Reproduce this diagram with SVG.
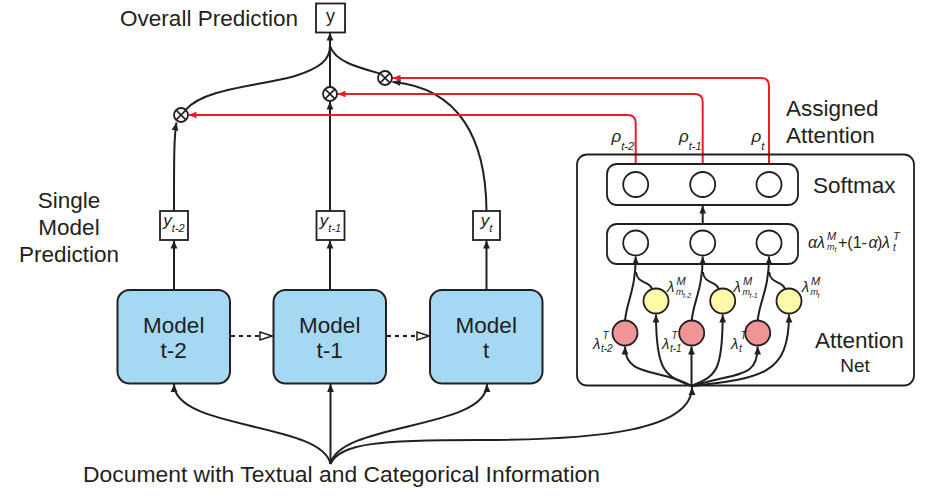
<svg xmlns="http://www.w3.org/2000/svg" width="931" height="498" viewBox="0 0 931 498">
<style>
text{font-family:"Liberation Sans",Arial,sans-serif;fill:#231f20}
.lbl{font-size:22.5px}
.it{font-style:italic}
.ln{fill:none;stroke:#231f20;stroke-width:2}
.red{fill:none;stroke:#ed1c24;stroke-width:2}
.model{fill:#a5d8f2;stroke:#231f20;stroke-width:2}
.box{fill:#fff;stroke:#231f20;stroke-width:1.8}
.rbox{fill:none;stroke:#231f20;stroke-width:1.8}
.node{stroke:#231f20;stroke-width:1.8}
.w{fill:#fff}.yl{fill:#fff9a8}.pk{fill:#f09496}
</style>
<defs>
<marker id="ah" viewBox="0 0 10 10" refX="10" refY="5" markerWidth="8" markerHeight="8" markerUnits="userSpaceOnUse" orient="auto"><path d="M0,0.8 L10,5 L0,9.2z" fill="#231f20"/></marker>
<marker id="ahr" viewBox="0 0 10 10" refX="10" refY="5" markerWidth="8" markerHeight="8" markerUnits="userSpaceOnUse" orient="auto"><path d="M0,0.8 L10,5 L0,9.2z" fill="#ed1c24"/></marker>
<marker id="open" viewBox="0 0 14 10" refX="13" refY="5" markerWidth="14" markerHeight="10" markerUnits="userSpaceOnUse" orient="auto"><path d="M1,1 L13,5 L1,9z" fill="#fff" stroke="#231f20" stroke-width="1.5"/></marker>
<g id="oxs"><circle r="7" fill="#fff" stroke="#231f20" stroke-width="1.8"/><path d="M-4.9,-4.9L4.9,4.9M-4.9,4.9L4.9,-4.9" stroke="#231f20" stroke-width="1.6"/></g>
</defs>
<rect width="931" height="498" fill="#fff"/>

<g id="connectors">
<path class="ln" d="M330,87 V32.5" marker-end="url(#ah)"/>
<path class="ln" d="M186,109.5 C205,88 260,86 295,76 C320,68 330,60 330,46"/>
<path class="ln" d="M380,73.5 C360,68 335,62 330,46"/>
<path class="ln" d="M330,211 V101.5" marker-end="url(#ah)"/>
<path class="ln" d="M174,211 C174,160 174,135 176.5,122.5" marker-end="url(#ah)"/>
<path class="ln" d="M486.5,211 C486,140 460,88 392.5,82" marker-end="url(#ah)"/>
<path class="red" d="M769,163 V86 Q769,78 761,78 H392.5" marker-end="url(#ahr)"/>
<path class="red" d="M702.7,163 V102 Q702.7,94 694.7,94 H337.5" marker-end="url(#ahr)"/>
<path class="red" d="M635.7,163 V123 Q635.7,115 627.7,115 H188.5" marker-end="url(#ahr)"/>
<path class="ln" d="M174,290 V240.5" marker-end="url(#ah)"/>
<path class="ln" d="M330,290 V240.5" marker-end="url(#ah)"/>
<path class="ln" d="M486.5,290 V240.5" marker-end="url(#ah)"/>
<path class="ln" d="M231,336 H272" stroke-dasharray="4,4" marker-end="url(#open)"/>
<path class="ln" d="M387,336 H429" stroke-dasharray="4,4" marker-end="url(#open)"/>
<path class="ln" d="M330.5,464 C322,422 174,430 174,384" marker-end="url(#ah)"/>
<path class="ln" d="M330.5,464 V384" marker-end="url(#ah)"/>
<path class="ln" d="M330.5,464 C339,422 487,430 487,384" marker-end="url(#ah)"/>
<path class="ln" d="M330.5,464 C340,443 380,440 480,440 C600,440 692,430 692,387" marker-end="url(#ah)"/>
<path class="ln" d="M691.5,386 C660,368 625,378 625,346.5" marker-end="url(#ah)"/>
<path class="ln" d="M691.5,386 C665,376 656,372 656,314.5" marker-end="url(#ah)"/>
<path class="ln" d="M691.5,386 V346.5" marker-end="url(#ah)"/>
<path class="ln" d="M691.5,386 C716,376 722.7,372 722.7,314.5" marker-end="url(#ah)"/>
<path class="ln" d="M691.5,386 C740,372 757.7,378 757.7,346.5" marker-end="url(#ah)"/>
<path class="ln" d="M691.5,386 C762,378 789,375 789,314.5" marker-end="url(#ah)"/>
<path class="ln" d="M625,320.5 C627,300 635.7,290 635.7,256.5" marker-end="url(#ah)"/>
<path class="ln" d="M691.7,320.5 C693.7,300 702.7,290 702.7,256.5" marker-end="url(#ah)"/>
<path class="ln" d="M757.7,320.5 C759.7,300 769,290 769,256.5" marker-end="url(#ah)"/>
<path class="ln" d="M652,289 C650,281 637,284 636,272"/>
<path class="ln" d="M718.7,289 C716.7,281 703.7,284 702.9,272"/>
<path class="ln" d="M785,289 C783,281 770,284 769.2,272"/>
<path class="ln" d="M702.7,224 V205.5" marker-end="url(#ah)"/>
</g>

<g id="op-left"><use href="#oxs" x="181" y="115"/></g>
<g id="op-mid"><use href="#oxs" x="330" y="94"/></g>
<g id="op-right"><use href="#oxs" x="385" y="78"/></g>

<g id="overall">
<text class="lbl" x="120" y="26" textLength="178" lengthAdjust="spacingAndGlyphs">Overall Prediction</text>
<rect class="box" x="316" y="3.5" width="29" height="29"/>
<text x="330.5" y="22" font-size="18" text-anchor="middle">y</text>
</g>

<g id="pred-label">
<text class="lbl" x="69" y="208" text-anchor="middle">Single</text>
<text class="lbl" x="69" y="235" text-anchor="middle">Model</text>
<text class="lbl" x="69" y="261.5" text-anchor="middle">Prediction</text>
</g>

<g id="y-t2"><rect class="box" x="160" y="211" width="28" height="29"/>
<text x="174" y="226" text-anchor="middle"><tspan class="it" font-size="17">y</tspan><tspan class="it" font-size="11" dy="6">t-2</tspan></text></g>
<g id="y-t1"><rect class="box" x="316.5" y="211" width="28" height="29"/>
<text x="330.5" y="226" text-anchor="middle"><tspan class="it" font-size="17">y</tspan><tspan class="it" font-size="11" dy="6">t-1</tspan></text></g>
<g id="y-t"><rect class="box" x="473" y="211" width="27" height="29"/>
<text x="486.5" y="226" text-anchor="middle"><tspan class="it" font-size="17">y</tspan><tspan class="it" font-size="11" dy="6">t</tspan></text></g>

<g id="model-t2"><rect class="model" x="117.5" y="290" width="112.5" height="93.5" rx="12"/>
<text class="lbl" x="173.75" y="333" text-anchor="middle">Model</text><text class="lbl" x="173.75" y="358" text-anchor="middle">t-2</text></g>
<g id="model-t1"><rect class="model" x="273.5" y="290" width="112.5" height="93.5" rx="12"/>
<text class="lbl" x="329.75" y="333" text-anchor="middle">Model</text><text class="lbl" x="329.75" y="358" text-anchor="middle">t-1</text></g>
<g id="model-t"><rect class="model" x="430" y="290" width="112.5" height="93.5" rx="12"/>
<text class="lbl" x="486.25" y="333" text-anchor="middle">Model</text><text class="lbl" x="486.25" y="358" text-anchor="middle">t</text></g>

<g id="document"><text class="lbl" x="83" y="482" textLength="517" lengthAdjust="spacingAndGlyphs">Document with Textual and Categorical Information</text></g>

<g id="attention-net">
<rect class="rbox" x="577" y="154.5" width="337" height="231" rx="10"/>
<text class="lbl" x="815" y="348">Attention</text>
<text x="855" y="372" font-size="19" text-anchor="middle">Net</text>
</g>
<g id="assigned"><text class="lbl" x="786" y="116">Assigned</text><text class="lbl" x="786" y="143">Attention</text>
<text class="it" font-size="17" x="611.5" y="142">ρ<tspan font-size="11" dy="7.5">t-2</tspan></text>
<text class="it" font-size="17" x="679" y="142">ρ<tspan font-size="11" dy="7.5">t-1</tspan></text>
<text class="it" font-size="17" x="751.5" y="142">ρ<tspan font-size="11" dy="7.5">t</tspan></text>
</g>

<g id="softmax"><rect class="rbox" x="607" y="164" width="191" height="41" rx="10"/>
<circle class="node w" cx="635.7" cy="184.5" r="12.5"/><circle class="node w" cx="702.7" cy="184.5" r="12.5"/><circle class="node w" cx="769" cy="184.5" r="12.5"/>
<text class="lbl" x="813" y="193">Softmax</text></g>

<g id="combine"><rect class="rbox" x="607" y="224" width="191" height="40" rx="10"/>
<circle class="node w" cx="635.7" cy="243" r="12.5"/><circle class="node w" cx="702.7" cy="243" r="12.5"/><circle class="node w" cx="769" cy="243" r="12.5"/>
<text font-size="16"><tspan class="it" x="808" y="248">α</tspan><tspan class="it" x="817" y="248">λ</tspan><tspan class="it" x="827" y="240" font-size="11">M</tspan><tspan class="it" x="827" y="249.5" font-size="9">m</tspan><tspan class="it" x="834.5" y="251.5" font-size="7">t</tspan><tspan x="838" y="248">+(1-</tspan><tspan class="it" x="868.5" y="248">α</tspan><tspan x="877" y="248">)</tspan><tspan class="it" x="882" y="248">λ</tspan><tspan class="it" x="893" y="240" font-size="11">T</tspan><tspan class="it" x="893" y="251" font-size="10">t</tspan></text>
</g>

<g id="lm-t2"><circle class="node yl" cx="656" cy="301" r="12.5"/>
<text class="it" font-size="15"><tspan x="667" y="292">λ</tspan><tspan x="676.5" y="285" font-size="11">M</tspan><tspan x="676" y="295" font-size="9">m</tspan><tspan x="683" y="297.5" font-size="7">t-2</tspan></text></g>
<g id="lm-t1"><circle class="node yl" cx="722.7" cy="301" r="12.5"/>
<text class="it" font-size="15"><tspan x="733.5" y="292">λ</tspan><tspan x="743" y="285" font-size="11">M</tspan><tspan x="742.5" y="295" font-size="9">m</tspan><tspan x="749.5" y="297.5" font-size="7">t-1</tspan></text></g>
<g id="lm-t"><circle class="node yl" cx="789" cy="301" r="12.5"/>
<text class="it" font-size="15"><tspan x="801.7" y="292">λ</tspan><tspan x="811" y="285" font-size="11">M</tspan><tspan x="810.5" y="295" font-size="9">m</tspan><tspan x="817.5" y="297.5" font-size="7">t</tspan></text></g>

<g id="lt-t2"><circle class="node pk" cx="625" cy="333" r="12.5"/>
<text class="it" font-size="15"><tspan x="593" y="349">λ</tspan><tspan x="602.5" y="338.5" font-size="10">T</tspan><tspan x="601" y="351.5" font-size="10">t-2</tspan></text></g>
<g id="lt-t1"><circle class="node pk" cx="691.7" cy="333" r="12.5"/>
<text class="it" font-size="15"><tspan x="662" y="349">λ</tspan><tspan x="671.5" y="338.5" font-size="10">T</tspan><tspan x="670" y="351.5" font-size="10">t-1</tspan></text></g>
<g id="lt-t"><circle class="node pk" cx="757.7" cy="333" r="12.5"/>
<text class="it" font-size="15"><tspan x="731" y="349">λ</tspan><tspan x="740.5" y="338.5" font-size="10">T</tspan><tspan x="739" y="351.5" font-size="10">t</tspan></text></g>
</svg>
